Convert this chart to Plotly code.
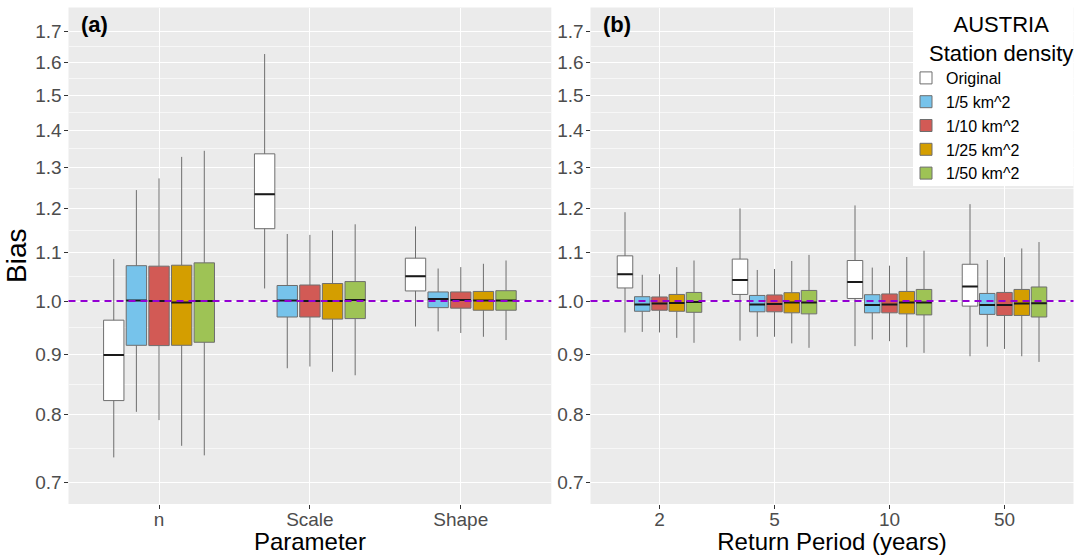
import math
import plotly.graph_objects as go

# ---------------- data ----------------
densities = ["Original", "1/5 km^2", "1/10 km^2", "1/25 km^2", "1/50 km^2"]
fill_colors = ["#FFFFFF", "#76C3EB", "#D25A55", "#D49E00", "#9EC355"]

params = ["n", "Scale", "Shape"]
periods = ["2", "5", "10", "50"]

# Panel (a): per density, values over params [n, Scale, Shape]
a_lower = [[0.735, 1.025, 0.951], [0.804, 0.876, 0.942], [0.791, 0.879, 0.939],
           [0.752, 0.870, 0.932], [0.738, 0.864, 0.926]]
a_q1 = [[0.822, 1.153, 1.020], [0.9165, 0.969, 0.987], [0.916, 0.969, 0.986],
        [0.9165, 0.965, 0.982], [0.922, 0.966, 0.982]]
a_median = [[0.899, 1.234, 1.050], [1.001, 1.001, 1.004], [1.000, 1.000, 1.002],
            [0.997, 1.000, 1.001], [1.000, 1.002, 1.001]]
a_q3 = [[0.963, 1.336, 1.088], [1.072, 1.031, 1.018], [1.071, 1.032, 1.018],
        [1.073, 1.035, 1.019], [1.078, 1.039, 1.0205]]
a_upper = [[1.086, 1.626, 1.158], [1.244, 1.141, 1.066], [1.273, 1.139, 1.069],
           [1.328, 1.149, 1.076], [1.344, 1.163, 1.083]]

# Panel (b): per density, values over return periods [2, 5, 10, 50]
b_lower = [[0.940, 0.925, 0.915, 0.897], [0.941, 0.932, 0.927, 0.914],
           [0.940, 0.932, 0.924, 0.910], [0.930, 0.920, 0.913, 0.897],
           [0.921, 0.912, 0.903, 0.887]]
b_q1 = [[1.026, 1.013, 1.005, 0.990], [0.980, 0.979, 0.977, 0.974],
        [0.982, 0.979, 0.977, 0.972], [0.980, 0.977, 0.975, 0.972],
        [0.978, 0.975, 0.973, 0.969]]
b_median = [[1.054, 1.042, 1.038, 1.029], [0.993, 0.993, 0.992, 0.992],
            [0.995, 0.994, 0.993, 0.992], [0.996, 0.997, 0.997, 0.995],
            [0.998, 0.997, 0.997, 0.9955]]
b_q3 = [[1.093, 1.086, 1.083, 1.075], [1.0085, 1.011, 1.0125, 1.015],
        [1.008, 1.012, 1.014, 1.017], [1.013, 1.0165, 1.019, 1.023],
        [1.017, 1.021, 1.023, 1.028]]
b_upper = [[1.191, 1.200, 1.207, 1.210], [1.053, 1.063, 1.068, 1.084],
           [1.054, 1.065, 1.072, 1.090], [1.069, 1.082, 1.0905, 1.109],
           [1.083, 1.095, 1.104, 1.123]]

y_ticks = [0.7, 0.8, 0.9, 1.0, 1.1, 1.2, 1.3, 1.4, 1.5, 1.6, 1.7]
y_ticktext = ["0.7", "0.8", "0.9", "1.0", "1.1", "1.2", "1.3", "1.4", "1.5", "1.6", "1.7"]
y_limits = [0.6706, 1.782]
ref_line = 1.0

# --------------- figure ----------------
W, H = 1079, 555
FONT = "Liberation Sans, Arial, sans-serif"
OUTLINE = "#6E6E6E"
fig = go.Figure()


def add_panel(xs, lower, q1, med, q3, upper, xa, ya, agroup, show_legend):
    for i, name in enumerate(densities):
        fig.add_trace(go.Box(
            name=name, x=xs, q1=q1[i], median=med[i], q3=q3[i],
            lowerfence=lower[i], upperfence=upper[i],
            fillcolor=fill_colors[i], line=dict(color=OUTLINE, width=1),
            whiskerwidth=0, boxpoints=False,
            offsetgroup="g%d" % i, alignmentgroup=agroup,
            showlegend=show_legend,
            xaxis=xa, yaxis=ya, hoverinfo="skip"))
        # median emphasis (black line at the median)
        fig.add_trace(go.Box(
            name=name, x=xs, q1=med[i], median=med[i], q3=med[i],
            lowerfence=med[i], upperfence=med[i],
            fillcolor="rgba(0,0,0,0)", line=dict(color="#1A1A1A", width=2),
            whiskerwidth=0, boxpoints=False,
            offsetgroup="g%d" % i, alignmentgroup=agroup,
            showlegend=False,
            xaxis=xa, yaxis=ya, hoverinfo="skip"))


add_panel(params, a_lower, a_q1, a_median, a_q3, a_upper, "x", "y", "A", True)
add_panel(periods, b_lower, b_q1, b_median, b_q3, b_upper, "x2", "y2", "B", False)

minor_vals = [math.sqrt(y_ticks[k] * y_ticks[k + 1]) for k in range(len(y_ticks) - 1)]
yrange = [math.log10(y_limits[0]), math.log10(y_limits[1])]
ydomain = [51 / H, 547.5 / H]

yaxis_common = dict(
    type="log", range=yrange, domain=ydomain,
    tickvals=y_ticks, ticktext=y_ticktext,
    tickfont=dict(family=FONT, size=19, color="#4D4D4D"),
    ticks="outside", ticklen=4, tickcolor="#333333", tickwidth=1,
    ticklabelstandoff=-2,
    showgrid=True, gridcolor="#FFFFFF", gridwidth=1.1,
    minor=dict(tickvals=minor_vals, showgrid=True,
               gridcolor="rgba(255,255,255,0.6)", gridwidth=0.6, ticks=""),
    zeroline=False, showline=False, automargin=False,
)
xaxis_common = dict(
    type="category",
    tickfont=dict(family=FONT, size=19, color="#4D4D4D"),
    ticks="outside", ticklen=4, tickcolor="#333333", tickwidth=1,
    ticklabelstandoff=-6,
    showgrid=True, gridcolor="#FFFFFF", gridwidth=1.1,
    zeroline=False, showline=False, automargin=False,
)

legend_left = 906
box_left = 913
legend_right = 1073.5

fig.update_layout(
    width=W, height=H,
    margin=dict(l=0, r=0, t=0, b=0),
    paper_bgcolor="#FFFFFF", plot_bgcolor="#EBEBEB",
    boxmode="group", boxgap=0.25, boxgroupgap=0.1,
    font=dict(family=FONT, color="#000000"),
    xaxis=dict(xaxis_common, domain=[68.5 / W, 551.3 / W], range=[-0.6, 2.6],
               anchor="y",
               title=dict(text="Parameter", font=dict(family=FONT, size=24, color="#000000"),
                          standoff=2)),
    xaxis2=dict(xaxis_common, domain=[590.5 / W, legend_right / W], range=[-0.6, 3.6],
                anchor="y2",
                title=dict(text="Return Period (years)",
                           font=dict(family=FONT, size=24, color="#000000"), standoff=2)),
    yaxis=dict(yaxis_common, anchor="x",
               title=dict(text="Bias", font=dict(family=FONT, size=28, color="#000000"),
                          standoff=0)),
    yaxis2=dict(yaxis_common, anchor="x2"),
    legend=dict(
        font=dict(family=FONT, size=16, color="#000000"),
        x=legend_left / W, xanchor="left", y=(H - 61) / H, yanchor="top",
        bgcolor="rgba(0,0,0,0)", borderwidth=0, tracegroupgap=0,
        itemclick=False, itemdoubleclick=False,
    ),
    shapes=[
        # white legend backdrop (title area + items)
        dict(type="rect", xref="paper", yref="paper", x0=box_left / W, x1=legend_right / W,
             y0=(H - 186) / H, y1=1.0, fillcolor="#FFFFFF", line=dict(width=0), layer="above"),
        dict(type="line", xref="x domain", yref="y", x0=0, x1=1, y0=ref_line, y1=ref_line,
             line=dict(color="#9400D3", width=2, dash="7px,5px"), layer="above"),
        dict(type="line", xref="x2 domain", yref="y2", x0=0, x1=1, y0=ref_line, y1=ref_line,
             line=dict(color="#9400D3", width=2, dash="7px,5px"), layer="above"),
    ],
    annotations=[
        dict(text="<b>(a)</b>", xref="x domain", yref="y domain", x=0.022, y=0.965,
             xanchor="left", yanchor="middle", showarrow=False,
             font=dict(family=FONT, size=22, color="#000000")),
        dict(text="<b>(b)</b>", xref="x2 domain", yref="y2 domain", x=0.022, y=0.965,
             xanchor="left", yanchor="middle", showarrow=False,
             font=dict(family=FONT, size=22, color="#000000")),
        dict(text="AUSTRIA<br>Station density", xref="paper", yref="paper",
             x=1001 / W, y=(H - 39) / H,
             xanchor="center", yanchor="middle", align="center", showarrow=False,
             font=dict(family=FONT, size=22, color="#000000")),
    ],
)

fig.write_html("out.html", config={"displayModeBar": False},
               post_script="document.body.style.margin='0px';document.body.style.padding='0px';")
